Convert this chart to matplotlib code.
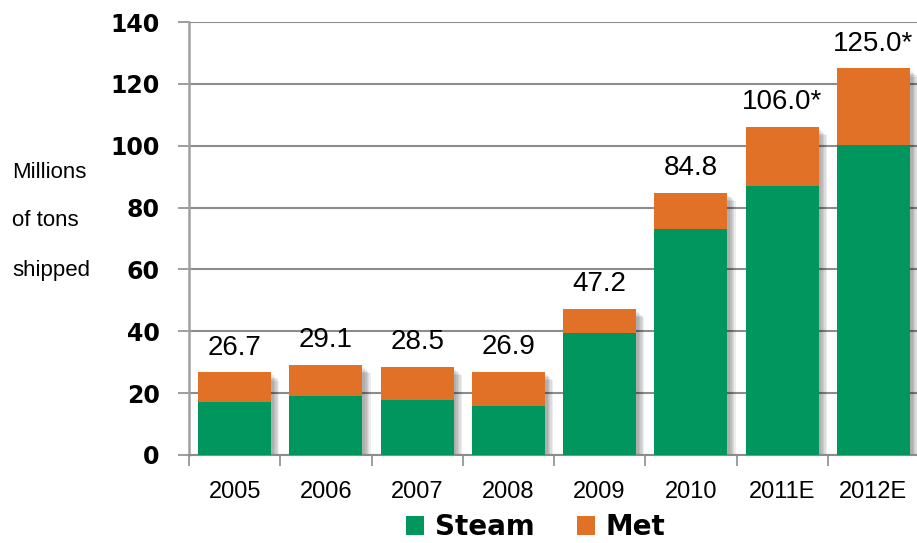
import matplotlib
matplotlib.use("Agg")
import matplotlib.pyplot as plt
import matplotlib.patheffects as pe
import numpy as np

# Coal shipments by year, split into steam and metallurgical coal
years = ["2005", "2006", "2007", "2008", "2009", "2010", "2011E", "2012E"]
steam = [17.1, 19.1, 17.8, 15.9, 39.5, 73.2, 87.0, 100.2]
totals = [26.7, 29.1, 28.5, 26.9, 47.2, 84.8, 106.0, 125.0]
total_labels = ["26.7", "29.1", "28.5", "26.9", "47.2", "84.8", "106.0*", "125.0*"]
met = [t - s for t, s in zip(totals, steam)]

GREEN = "#00965e"
ORANGE = "#e07127"
GRID = "#8c8c8c"
TEXT_FONT = "Liberation Sans"
HEAVY_FONT = "DejaVu Sans"

fig = plt.figure(figsize=(9.17, 5.43), dpi=100)
ax = fig.add_axes([189 / 917, 88 / 543, 730 / 917, 433 / 543])

x = np.arange(len(years))

# soft drop shadow built from a few faint offset copies
shadow = [
    pe.SimplePatchShadow(offset=(o, -o), shadow_rgbFace="black", alpha=0.07)
    for o in (2, 3, 4, 5, 6)
] + [pe.Normal()]

ax.bar(x, totals, width=0.8, color="none", edgecolor="none",
       path_effects=shadow, zorder=2)
ax.bar(x, steam, width=0.8, color=GREEN, zorder=3, label="Steam")
ax.bar(x, met, width=0.8, bottom=steam, color=ORANGE, zorder=3, label="Met")

for xi, t, lab in zip(x, totals, total_labels):
    ax.text(xi, t + 3.8, lab, ha="center", va="bottom", fontsize=20,
            family=TEXT_FONT, color="black", zorder=4)

ax.set_xlim(-0.5, len(years) - 0.5)
ax.set_ylim(0, 140)
ax.set_yticks(np.arange(0, 141, 20))
ax.set_yticklabels([str(v) for v in range(0, 141, 20)],
                   fontsize=17, fontweight="bold", family=HEAVY_FONT)
ax.yaxis.grid(True, color=GRID, linewidth=1.5, zorder=0)
ax.set_axisbelow(True)

ax.set_xticks(x)
ax.set_xticklabels(years, fontsize=17, family=TEXT_FONT)
ax.set_xticks(np.arange(-0.5, len(years)), minor=True)
ax.tick_params(axis="x", which="major", length=0, pad=19)
ax.tick_params(axis="x", which="minor", length=8, width=1.2, color=GRID)
ax.tick_params(axis="y", length=8, width=1.2, color=GRID, pad=13)

for side in ("top", "right"):
    ax.spines[side].set_visible(False)
ax.spines["left"].set_color("#a0a0a0")
ax.spines["left"].set_linewidth(1.8)
ax.spines["bottom"].set_color(GRID)
ax.spines["bottom"].set_linewidth(1.5)

# axis caption placed as three separate lines
for yy, line in zip((172, 220, 270), ("Millions", "of tons", "shipped")):
    fig.text(12 / 917, 1 - yy / 543, line, ha="left", va="center",
             fontsize=16, family=TEXT_FONT)

# legend along the bottom
fig.legend(loc="center", bbox_to_anchor=(536 / 917, 1 - 527 / 543),
           ncol=2, frameon=False, handlelength=0.65, handleheight=0.65,
           handletextpad=0.4, columnspacing=1.5, borderpad=0.2,
           prop={"family": HEAVY_FONT, "weight": "bold", "size": 20})

fig.savefig("out.png", dpi=100)
